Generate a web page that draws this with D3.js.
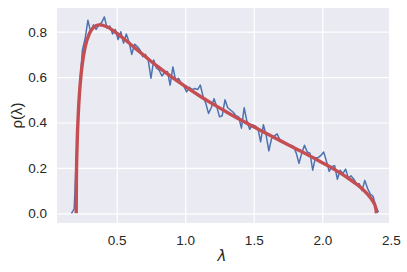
<!DOCTYPE html>
<html>
<head>
<meta charset="utf-8">
<script src="https://cdn.jsdelivr.net/npm/d3@7"></script>
<style>
  body { margin: 0; background: #fff; }
  .tick text { font-family: "Liberation Sans", Arial, sans-serif; font-size: 13.5px; fill: #262626; }
</style>
</head>
<body>
<svg width="407" height="272"></svg>
<script>
// histogram estimate (blue) - bin centres and densities
var histLambda = [0.17, 0.19, 0.21, 0.23, 0.25, 0.27, 0.29, 0.31, 0.33, 0.35, 0.37, 0.39, 0.41, 0.43, 0.45, 0.47, 0.49,
  0.51, 0.53, 0.55, 0.57, 0.59, 0.61, 0.63, 0.65, 0.67, 0.69, 0.71, 0.73, 0.75, 0.77, 0.79, 0.81, 0.83, 0.85, 0.87, 0.89,
  0.91, 0.93, 0.95, 0.97, 0.99, 1.01, 1.03, 1.05, 1.07, 1.09, 1.11, 1.13, 1.15, 1.17, 1.19, 1.21, 1.23, 1.25, 1.27, 1.29,
  1.31, 1.33, 1.35, 1.37, 1.39, 1.41, 1.43, 1.45, 1.47, 1.49, 1.51, 1.53, 1.55, 1.57, 1.59, 1.61, 1.63, 1.65, 1.67, 1.69,
  1.71, 1.73, 1.75, 1.77, 1.79, 1.81, 1.83, 1.85, 1.87, 1.89, 1.91, 1.93, 1.95, 1.97, 1.99, 2.01, 2.03, 2.05, 2.07, 2.09,
  2.11, 2.13, 2.15, 2.17, 2.19, 2.21, 2.23, 2.25, 2.27, 2.29, 2.31, 2.33, 2.35, 2.37, 2.39, 2.41];
var histRho = [0.00, 0.02, 0.31, 0.56, 0.72, 0.77, 0.85, 0.80, 0.83, 0.81, 0.83, 0.84, 0.865, 0.815, 0.825, 0.79, 0.81,
  0.765, 0.80, 0.75, 0.79, 0.755, 0.70, 0.745, 0.735, 0.72, 0.69, 0.70, 0.675, 0.595, 0.675, 0.64, 0.63, 0.605, 0.62, 0.625, 0.565,
  0.645, 0.585, 0.595, 0.575, 0.56, 0.535, 0.555, 0.545, 0.55, 0.545, 0.565, 0.515, 0.485, 0.44, 0.465, 0.505, 0.47, 0.425, 0.43, 0.50,
  0.465, 0.455, 0.445, 0.43, 0.425, 0.375, 0.465, 0.405, 0.37, 0.39, 0.385, 0.375, 0.315, 0.39, 0.345, 0.275, 0.33, 0.34, 0.35, 0.325,
  0.315, 0.31, 0.30, 0.30, 0.295, 0.265, 0.22, 0.265, 0.30, 0.27, 0.265, 0.19, 0.245, 0.245, 0.255, 0.27, 0.23, 0.185, 0.205, 0.21,
  0.15, 0.19, 0.175, 0.195, 0.155, 0.165, 0.15, 0.13, 0.13, 0.10, 0.145, 0.11, 0.085, 0.075, 0.03, 0.005];

// theoretical density (red)
var theoryLambda = [0.2046, 0.206, 0.21, 0.215, 0.22, 0.23, 0.24, 0.25, 0.27, 0.30, 0.33, 0.37, 0.42, 0.50, 0.55, 0.60,
  0.65, 0.70, 0.75, 0.80, 0.90, 1.0, 1.1, 1.2, 1.3, 1.4, 1.5, 1.6, 1.7, 1.8, 1.9, 2.0, 2.1, 2.2, 2.25, 2.3, 2.35, 2.37, 2.39, 2.395];
var theoryRho = [0, 0.143, 0.274, 0.372, 0.441, 0.541, 0.611, 0.662, 0.733, 0.791, 0.818, 0.830, 0.824, 0.794, 0.770, 0.745,
  0.720, 0.695, 0.670, 0.646, 0.601, 0.559, 0.519, 0.482, 0.447, 0.413, 0.381, 0.349, 0.318, 0.287, 0.256, 0.223, 0.189, 0.150,
  0.128, 0.103, 0.070, 0.052, 0.023, 0];

var xTicks = [0.5, 1.0, 1.5, 2.0, 2.5];
var yTicks = [0.0, 0.2, 0.4, 0.6, 0.8];

var margin = {top: 8, right: 18, bottom: 49, left: 57},
    width = 407 - margin.left - margin.right,
    height = 272 - margin.top - margin.bottom;

var svg = d3.select("svg")
  .append("g")
    .attr("transform", "translate(" + margin.left + "," + margin.top + ")");

var x = d3.scaleLinear().domain([0.0645, 2.4866]).range([0, width]);
var y = d3.scaleLinear().domain([-0.0427, 0.9044]).range([height, 0]);

svg.append("rect")
    .attr("width", width)
    .attr("height", height)
    .attr("fill", "#EAEAF2");

var fmt = d3.format(".1f");

var gx = svg.append("g")
    .attr("transform", "translate(0," + height + ")")
    .call(d3.axisBottom(x).tickValues(xTicks).tickFormat(fmt).tickSize(-height).tickPadding(12));
var gy = svg.append("g")
    .call(d3.axisLeft(y).tickValues(yTicks).tickFormat(fmt).tickSize(-width).tickPadding(10));

[gx, gy].forEach(function(g) {
  g.select(".domain").remove();
  g.selectAll(".tick line").attr("stroke", "#fff").attr("stroke-width", 1.2);
});

var histLine = d3.line()
    .x(function(d, i) { return x(histLambda[i]); })
    .y(function(d) { return y(d); });

var theoryLine = d3.line()
    .curve(d3.curveMonotoneX)
    .x(function(d, i) { return x(theoryLambda[i]); })
    .y(function(d) { return y(d); });

svg.append("path")
    .attr("fill", "none")
    .attr("stroke", "#4C72B0")
    .attr("stroke-width", 1.5)
    .attr("stroke-linejoin", "round")
    .attr("d", histLine(histRho));

svg.append("path")
    .attr("fill", "none")
    .attr("stroke", "#C44E52")
    .attr("stroke-width", 3.4)
    .attr("stroke-linejoin", "round")
    .attr("stroke-linecap", "butt")
    .attr("d", theoryLine(theoryRho));

// axis labels
svg.append("text")
    .attr("x", width / 2 - 1)
    .attr("y", height + 38)
    .attr("text-anchor", "middle")
    .style("font-family", "DejaVu Sans, sans-serif")
    .style("font-style", "italic")
    .style("font-size", "15px")
    .attr("fill", "#262626")
    .text("λ");

svg.append("text")
    .attr("transform", "translate(" + (-35) + "," + (height / 2) + ") rotate(-90)")
    .attr("text-anchor", "middle")
    .style("font-family", "Liberation Sans, Arial, sans-serif")
    .style("font-size", "15px")
    .attr("fill", "#262626")
    .text("ρ(λ)");
</script>
</body>
</html>
